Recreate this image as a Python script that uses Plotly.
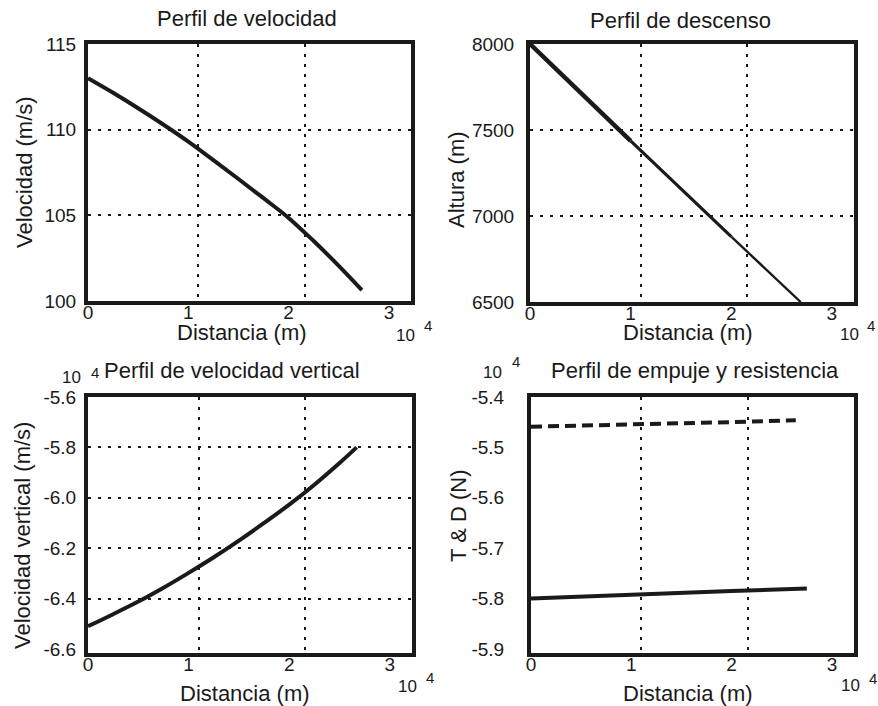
import plotly.graph_objects as go

# ---- datos (distancia en unidades de 10^4 m) ----
dist_vel = [0.0, 0.25, 0.5, 0.75, 1.0, 1.25, 1.5, 1.75, 2.0, 2.25, 2.5, 2.73]
velocidad = [113.0, 112.15, 111.25, 110.3, 109.3, 108.22, 107.12, 106.0, 104.85, 103.5, 102.05, 100.64]

dist_alt = [0.0, 0.5, 1.0, 1.5, 2.0, 2.5, 2.69]
altura = [8000, 7718, 7437, 7160, 6880, 6605, 6500]

dist_vv = [0.0, 0.25, 0.5, 0.75, 1.0, 1.25, 1.5, 1.75, 2.0, 2.25, 2.5, 2.67]
vel_vertical = [-6.51, -6.462, -6.412, -6.357, -6.298, -6.236, -6.17, -6.10, -6.027, -5.948, -5.862, -5.80]

dist_td = [0.0, 0.5, 1.0, 1.5, 2.0, 2.64]
empuje = [-5.459, -5.456, -5.454, -5.452, -5.450, -5.446]
dist_res = [0.0, 1.0, 2.0, 2.75]
resistencia = [-5.800, -5.792, -5.785, -5.780]

x_ticks = [0, 1, 2, 3]
x_grid = [1.1, 2.16]
y1_ticks = [100, 105, 110, 115]
y1_grid = [105, 110]
y2_ticks = [6500, 7000, 7500, 8000]
y2_grid = [7000, 7500]
y3_ticks = [-6.6, -6.4, -6.2, -6.0, -5.8, -5.6]
y3_text = ["-6.6", "-6.4", "-6.2", "-6.0", "-5.8", "-5.6"]
y3_grid = [-6.4, -6.2, -6.0, -5.8]
y4_ticks = [-5.9, -5.8, -5.7, -5.6, -5.5, -5.4]
y4_text = ["-5.9", "-5.8", "-5.7", "-5.6", "-5.5", "-5.4"]

W, H = 878, 706
FONT = "Liberation Sans, Arial, Helvetica, sans-serif"
INK = "#1a1a1a"


def fx(p):
    return p / W


def fy(p):
    return 1 - p / H


fig = go.Figure()

fig.add_trace(go.Scatter(x=dist_vel, y=velocidad, mode="lines", line_shape="spline",
                         line=dict(color=INK, width=4), xaxis="x", yaxis="y"))
# el trazo de altura se adelgaza a lo largo del descenso
for a, b, w in [(0, 3, 4.5), (2, 5, 3.2), (4, 7, 2.4)]:
    fig.add_trace(go.Scatter(x=dist_alt[a:b], y=altura[a:b], mode="lines",
                             line=dict(color=INK, width=w), xaxis="x2", yaxis="y2"))
fig.add_trace(go.Scatter(x=dist_vv, y=vel_vertical, mode="lines", line_shape="spline",
                         line=dict(color=INK, width=4), xaxis="x3", yaxis="y3"))
fig.add_trace(go.Scatter(x=dist_td, y=empuje, mode="lines",
                         line=dict(color=INK, width=4, dash="11px,6px"), xaxis="x4", yaxis="y4"))
fig.add_trace(go.Scatter(x=dist_res, y=resistencia, mode="lines",
                         line=dict(color=INK, width=4), xaxis="x4", yaxis="y4"))

grid_style = dict(gridcolor=INK, gridwidth=1.6, griddash="3px,7px")


def x_axis(x0, x1, y_anchor):
    return dict(
        domain=[fx(x0), fx(x1)], anchor=y_anchor, range=[0, 3.22],
        tickmode="array", tickvals=x_ticks, ticktext=[str(v) for v in x_ticks],
        showgrid=False, zeroline=False, ticks="", ticklabelstandoff=-9,
        minor=dict(tickmode="array", tickvals=x_grid, showgrid=True, ticks="", **grid_style),
        showline=True, linewidth=4, linecolor=INK, mirror=True, automargin=False,
        tickfont=dict(family=FONT, size=19, color=INK), fixedrange=True,
    )


def y_axis(y0, y1, x_anchor, rng, vals, text, grid, standoff):
    d = dict(
        domain=[fy(y1), fy(y0)], anchor=x_anchor, range=rng,
        tickmode="array", tickvals=vals, ticktext=text,
        showgrid=False, zeroline=False, ticks="", ticklabelstandoff=standoff,
        showline=True, linewidth=4, linecolor=INK, mirror=True, automargin=False,
        tickfont=dict(family=FONT, size=19, color=INK), fixedrange=True,
    )
    if grid:
        d["minor"] = dict(tickmode="array", tickvals=grid, showgrid=True, ticks="", **grid_style)
    return d


fig.update_layout(
    width=W, height=H, margin=dict(l=0, r=0, t=0, b=0),
    template="none", showlegend=False, hovermode=False,
    paper_bgcolor="white", plot_bgcolor="white",
    xaxis=x_axis(88, 411, "y"),
    yaxis=y_axis(44, 301, "x", [100, 115], y1_ticks, [str(v) for v in y1_ticks], y1_grid, 4),
    xaxis2=x_axis(530, 854, "y2"),
    yaxis2=y_axis(44, 302, "x2", [6500, 8000], y2_ticks, [str(v) for v in y2_ticks], y2_grid, 8),
    xaxis3=x_axis(88, 412, "y3"),
    yaxis3=y_axis(397, 653, "x3", [-6.616, -5.6], y3_ticks, y3_text, y3_grid, 4),
    xaxis4=x_axis(531, 854, "y4"),
    yaxis4=y_axis(397, 653, "x4", [-5.908, -5.4], y4_ticks, y4_text, None, 19),
)


def texto(s, x, y, size, angle=0, xanchor="center"):
    fig.add_annotation(text=s, x=fx(x), y=fy(y), xref="paper", yref="paper",
                       xanchor=xanchor, yanchor="middle", showarrow=False, textangle=angle,
                       font=dict(family=FONT, size=size, color=INK))


# títulos
texto("Perfil de velocidad", 247, 19, 22)
texto("Perfil de descenso", 680, 20, 22)
texto("Perfil de velocidad vertical", 102, 370, 22, xanchor="left")
texto("Perfil de empuje y resistencia", 695, 370, 22)

# ejes x
texto("Distancia (m)", 242, 333, 22)
texto("Distancia (m)", 688, 333, 22)
texto("Distancia (m)", 245, 693, 22)
texto("Distancia (m)", 688, 693, 22)

# ejes y
texto("Velocidad (m/s)", 25, 172, 22, angle=-90)
texto("Altura (m)", 456, 180, 22, angle=-90)
texto("Velocidad vertical (m/s)", 22, 536, 22, angle=-90)
texto("T & D (N)", 458, 516, 22, angle=-90)

# factores de escala 10^4
for x10, y10, x4, y4 in [(405, 335, 428, 325), (849, 334, 871, 325),
                         (407, 686, 430, 677), (850, 685, 873, 678),
                         (71, 377, 95, 372), (492, 372, 516, 362)]:
    texto("10", x10, y10, 17)
    texto("4", x4, y4, 15)

fig.write_html("out.html")
